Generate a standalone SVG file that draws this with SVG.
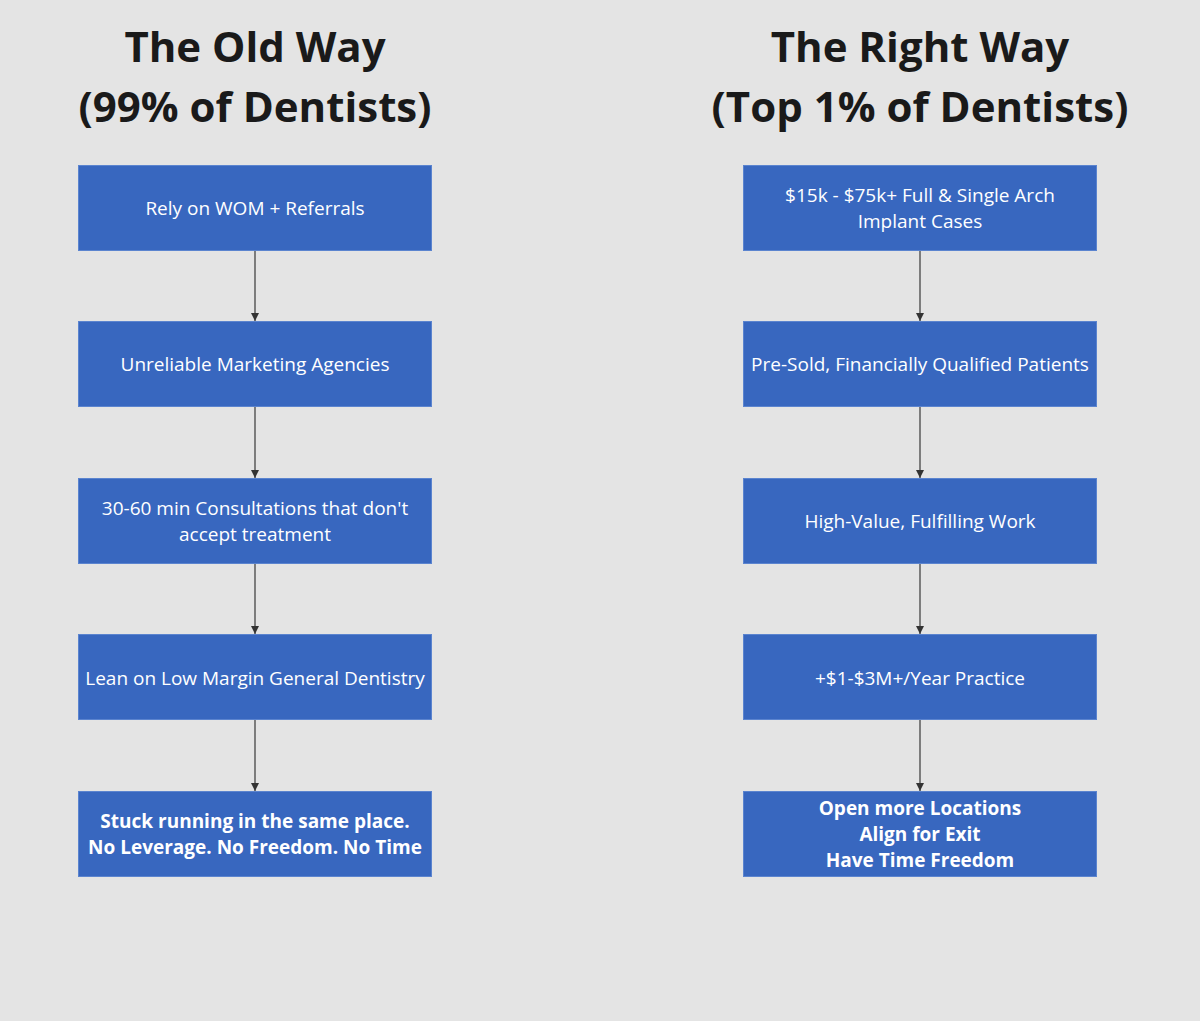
<svg xmlns="http://www.w3.org/2000/svg" width="1200" height="1021" viewBox="0 0 1200 1021">
<defs>
<marker id="ah" viewBox="0 0 10 10" refX="10" refY="5" markerWidth="8" markerHeight="8" markerUnits="userSpaceOnUse" orient="auto">
<path d="M0,0 L10,5 L0,10 z" fill="#333"/>
</marker>
<style>
.title{font-family:"Open Sans","Noto Sans",sans-serif;font-weight:700;font-size:42px;fill:#1a1a1a;text-anchor:middle}
.box{fill:#3867bf;stroke:#5b84cf;stroke-width:1}
.t{font-family:"Open Sans","Noto Sans",sans-serif;font-size:19px;fill:#ffffff;text-anchor:middle}
.b{font-weight:700}
.c{stroke:#444;stroke-width:1.3;fill:none;marker-end:url(#ah)}
</style>
</defs>
<rect width="1200" height="1021" fill="#e4e4e4"/>
<g id="title-left"><text class="title" x="255" y="62">The Old Way</text><text class="title" x="255" y="122">(99% of Dentists)</text></g>
<g id="title-right"><text class="title" x="920" y="62">The Right Way</text><text class="title" x="920" y="122">(Top 1% of Dentists)</text></g>
<g id="connectors">
<line class="c" x1="255" y1="250" x2="255" y2="321"/>
<line class="c" x1="255" y1="406" x2="255" y2="478"/>
<line class="c" x1="255" y1="563" x2="255" y2="634"/>
<line class="c" x1="255" y1="719" x2="255" y2="791"/>
<line class="c" x1="920" y1="250" x2="920" y2="321"/>
<line class="c" x1="920" y1="406" x2="920" y2="478"/>
<line class="c" x1="920" y1="563" x2="920" y2="634"/>
<line class="c" x1="920" y1="719" x2="920" y2="791"/>
</g>
<g id="l1"><rect class="box" x="78.500" y="165.500" width="353" height="85"/><text class="t" x="255" y="215">Rely on WOM + Referrals</text></g>
<g id="l2"><rect class="box" x="78.500" y="321.500" width="353" height="85"/><text class="t" x="255" y="371">Unreliable Marketing Agencies</text></g>
<g id="l3"><rect class="box" x="78.500" y="478.500" width="353" height="85"/><text class="t" x="255" y="515">30-60 min Consultations that don't</text><text class="t" x="255" y="541">accept treatment</text></g>
<g id="l4"><rect class="box" x="78.500" y="634.500" width="353" height="85"/><text class="t" x="255" y="685">Lean on Low Margin General Dentistry</text></g>
<g id="l5"><rect class="box" x="78.500" y="791.500" width="353" height="85"/><text class="t b" x="255" y="828">Stuck running in the same place.</text><text class="t b" x="255" y="854">No Leverage. No Freedom. No Time</text></g>
<g id="r1"><rect class="box" x="743.500" y="165.500" width="353" height="85"/><text class="t" x="920" y="202">$15k - $75k+ Full &amp; Single Arch</text><text class="t" x="920" y="228">Implant Cases</text></g>
<g id="r2"><rect class="box" x="743.500" y="321.500" width="353" height="85"/><text class="t" x="920" y="371">Pre-Sold, Financially Qualified Patients</text></g>
<g id="r3"><rect class="box" x="743.500" y="478.500" width="353" height="85"/><text class="t" x="920" y="528">High-Value, Fulfilling Work</text></g>
<g id="r4"><rect class="box" x="743.500" y="634.500" width="353" height="85"/><text class="t" x="920" y="685">+$1-$3M+/Year Practice</text></g>
<g id="r5"><rect class="box" x="743.500" y="791.500" width="353" height="85"/><text class="t b" x="920" y="815">Open more Locations</text><text class="t b" x="920" y="841">Align for Exit</text><text class="t b" x="920" y="867">Have Time Freedom</text></g>
</svg>
